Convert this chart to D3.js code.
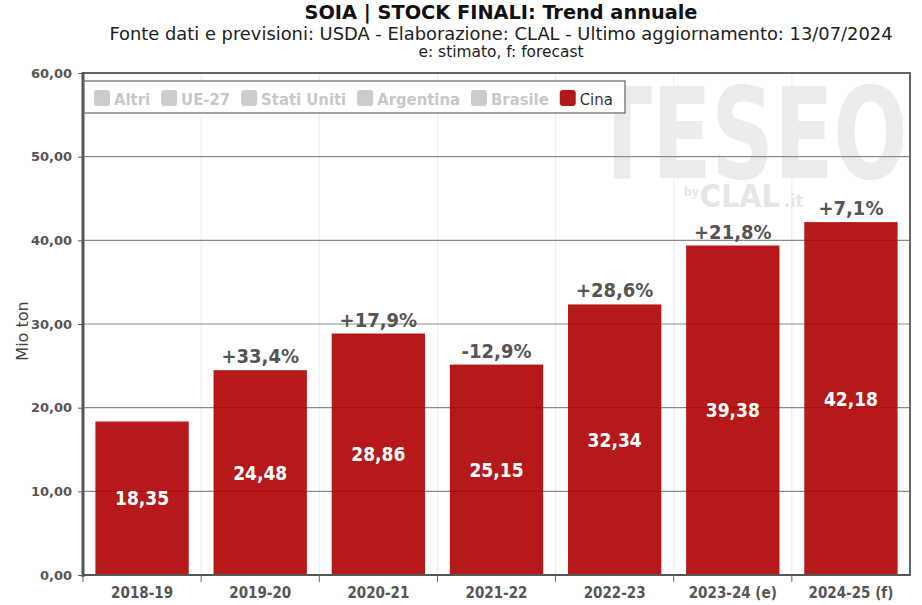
<!DOCTYPE html>
<html><head><meta charset="utf-8">
<script src="https://cdn.jsdelivr.net/npm/d3@7"></script>
<style>body{margin:0;background:#fff}svg{display:block}</style>
</head><body>
<script>
const categories = ["2018-19","2019-20","2020-21","2021-22","2022-23","2023-24 (e)","2024-25 (f)"];
const values = [18.35,24.48,28.86,25.15,32.34,39.38,42.18];
const changes = ["","+33,4%","+17,9%","-12,9%","+28,6%","+21,8%","+7,1%"];
const yTicks = [0,10,20,30,40,50,60];
const legendItems = ["Altri","UE-27","Stati Uniti","Argentina","Brasile","Cina"];
const legendActive = [false,false,false,false,false,true];

const W=922,H=605;
const m={l:83,r:910,t:73,b:575};
const svg=d3.select("body").append("svg").attr("width",W).attr("height",H);
const font="'DejaVu Sans Condensed','DejaVu Sans',sans-serif";
const fmt=v=>d3.format(".2f")(v).replace(".",",");

const x=d3.scaleBand().domain(categories).range([m.l,m.r]).paddingInner(0.21).paddingOuter(0.105);
const xb=d3.scaleBand().domain(categories).range([m.l,m.r]);
const y=d3.scaleLinear().domain([0,60]).range([m.b,m.t]);

// watermark
svg.append("text").attr("transform","translate(750,178) scale(1,1.3)").attr("text-anchor","middle")
  .attr("font-family","'DejaVu Sans Condensed',sans-serif").attr("font-weight","bold")
  .attr("font-size",98).attr("fill","#ececec").attr("textLength",315).attr("lengthAdjust","spacingAndGlyphs").text("TESEO");
let wx=684;
const by=svg.append("text").attr("x",wx).attr("y",196).attr("font-family",font).attr("font-weight","bold")
  .attr("font-size",12).attr("fill","#e6e6e6").text("by");
wx+=by.node().getComputedTextLength()+1;
const cl=svg.append("text").attr("x",wx).attr("y",207).attr("font-family",font).attr("font-weight","bold")
  .attr("font-size",32).attr("fill","#e6e6e6").text("CLAL");
wx+=cl.node().getComputedTextLength()+4;
svg.append("text").attr("x",wx).attr("y",207).attr("font-family",font).attr("font-weight","bold")
  .attr("font-size",18).attr("fill","#e6e6e6").text(".it");

// vertical grid
svg.append("g").selectAll("line").data(categories.slice(1)).join("line")
  .attr("x1",d=>xb(d)).attr("x2",d=>xb(d)).attr("y1",m.t).attr("y2",m.b)
  .attr("stroke","#ececec").attr("stroke-width",1);
// horizontal grid
svg.append("g").selectAll("line").data(yTicks.slice(1,-1)).join("line")
  .attr("x1",m.l).attr("x2",m.r).attr("y1",d=>y(d)).attr("y2",d=>y(d))
  .attr("stroke","#8a8a8a").attr("stroke-width",1.2);

// bars
svg.append("g").selectAll("rect").data(values).join("rect")
  .attr("x",(d,i)=>x(categories[i])).attr("width",x.bandwidth())
  .attr("y",d=>y(d)).attr("height",d=>m.b-y(d))
  .attr("fill","#ae0000").attr("fill-opacity",0.9);

// frame
svg.append("rect").attr("x",m.l).attr("y",m.t).attr("width",m.r-m.l).attr("height",m.b-m.t)
  .attr("fill","none").attr("stroke","#666").attr("stroke-width",2);
svg.append("line").attr("x1",m.l).attr("x2",m.l).attr("y1",m.t-1).attr("y2",m.b+2).attr("stroke","#555").attr("stroke-width",3);
svg.append("line").attr("x1",m.l).attr("x2",m.r).attr("y1",m.b).attr("y2",m.b).attr("stroke","#555").attr("stroke-width",2);

// y axis
const ya=svg.append("g").attr("transform",`translate(${m.l},0)`)
  .call(d3.axisLeft(y).tickValues(yTicks).tickFormat(fmt).tickSize(5).tickPadding(6));
ya.select(".domain").remove();
ya.selectAll("line").attr("stroke","#555");
ya.selectAll("text").attr("font-family","'DejaVu Sans',sans-serif").attr("font-weight","bold").attr("font-size",13).attr("fill","#555");
svg.append("text").attr("transform","translate(28,331) rotate(-90)").attr("text-anchor","middle")
  .attr("font-family","'DejaVu Sans',sans-serif").attr("font-size",16).attr("fill","#444").text("Mio ton");

// x axis
const xa=svg.append("g").attr("transform",`translate(0,${m.b})`)
  .call(d3.axisBottom(xb).tickSize(0).tickPadding(12));
xa.select(".domain").remove();
xa.selectAll("text").attr("font-family",font).attr("font-weight","bold").attr("font-size",15).attr("fill","#555");
svg.append("g").selectAll("line").data(categories).join("line")
  .attr("x1",d=>xb(d)).attr("x2",d=>xb(d)).attr("y1",m.b).attr("y2",m.b+7).attr("stroke","#666");

// labels
svg.append("g").selectAll("text").data(values).join("text")
  .attr("x",(d,i)=>x(categories[i])+x.bandwidth()/2).attr("y",d=>(y(d)+m.b)/2+7)
  .attr("text-anchor","middle").attr("font-family",font).attr("font-weight","bold")
  .attr("font-size",19).attr("fill","#fff").text(fmt);
svg.append("g").selectAll("text").data(values).join("text")
  .attr("x",(d,i)=>x(categories[i])+x.bandwidth()/2).attr("y",d=>y(d)-7)
  .attr("text-anchor","middle").attr("font-family",font).attr("font-weight","bold")
  .attr("font-size",20).attr("fill","#555").text((d,i)=>changes[i]);

// legend
const lg=svg.append("g");
lg.append("rect").attr("x",84).attr("y",81).attr("width",541).attr("height",32).attr("fill","#fff").attr("stroke","#666").attr("stroke-width",1.2);
let lx=94;
legendItems.forEach((t,i)=>{
  const g=lg.append("g");
  g.append("rect").attr("x",lx).attr("y",90).attr("width",16).attr("height",16).attr("rx",3)
    .attr("fill",legendActive[i]?"#b01818":"#cccccc");
  const tx=g.append("text").attr("x",lx+20).attr("y",105).attr("font-family",font).attr("font-weight",legendActive[i]?"normal":"bold")
    .attr("font-size",16.5).attr("fill",legendActive[i]?"#333":"#c8c8c8").text(t);
  lx+=20+tx.node().getComputedTextLength()+11;
});

// titles
svg.append("text").attr("x",501).attr("y",19).attr("text-anchor","middle").attr("font-family",font)
  .attr("font-weight","bold").attr("font-size",20).attr("fill","#111")
  .attr("textLength",393).attr("lengthAdjust","spacingAndGlyphs").text("SOIA | STOCK FINALI: Trend annuale");
svg.append("text").attr("x",501).attr("y",40).attr("text-anchor","middle").attr("font-family",font)
  .attr("font-size",18).attr("fill","#222")
  .attr("textLength",783).attr("lengthAdjust","spacingAndGlyphs").text("Fonte dati e previsioni: USDA - Elaborazione: CLAL - Ultimo aggiornamento: 13/07/2024");
svg.append("text").attr("x",501).attr("y",57).attr("text-anchor","middle").attr("font-family","'DejaVu Sans Condensed','DejaVu Sans',sans-serif")
  .attr("font-size",15).attr("fill","#222")
  .attr("textLength",165).attr("lengthAdjust","spacingAndGlyphs").text("e: stimato, f: forecast");
</script>
</body></html>
